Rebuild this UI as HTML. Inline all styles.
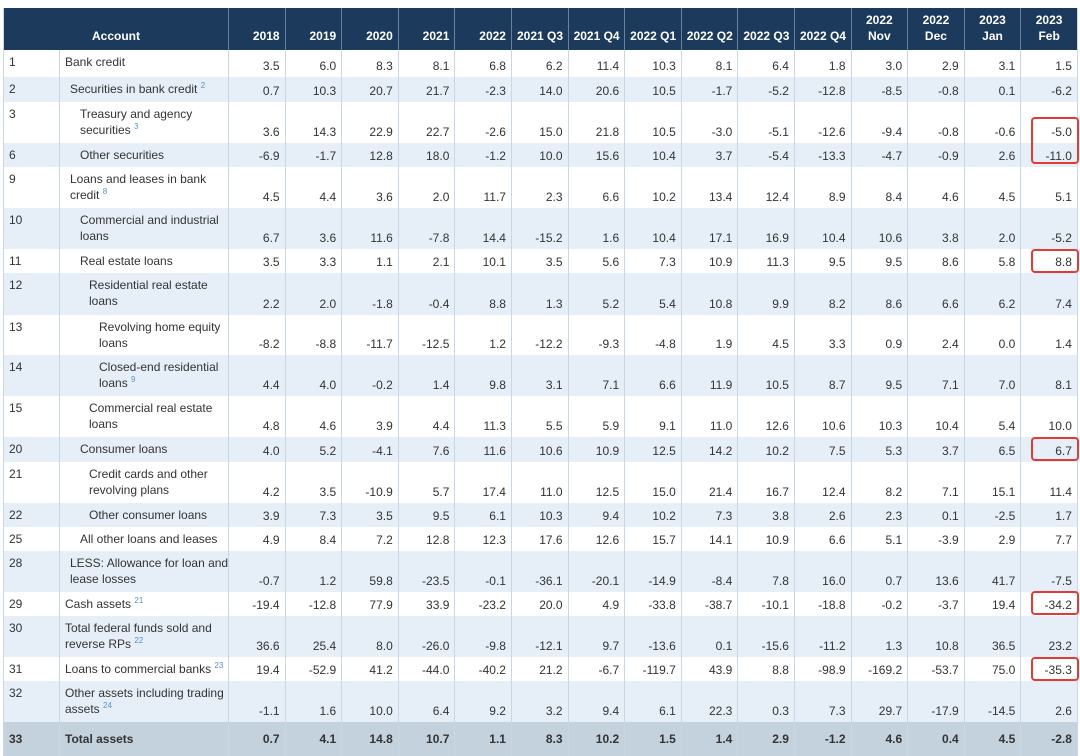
<!DOCTYPE html>
<html><head><meta charset="utf-8"><style>
body{margin:0;background:#fff;width:1080px;height:756px;overflow:hidden;position:relative;font-family:"Liberation Sans",Arial,sans-serif;}
table{position:absolute;left:3px;top:8px;border-collapse:collapse;table-layout:fixed;width:1074px;font-size:12px;color:#333;border-right:1px solid #c9d6e3}
th{background:#1b3a5c;color:#fff;font-weight:bold;height:42px;padding:0 5px 6px;vertical-align:bottom;text-align:right;border-left:1px solid #6b819a;line-height:16px;box-sizing:border-box;white-space:nowrap;overflow:hidden}
th.a{text-align:center}
td{padding:2px 5px 3px;border-left:1px solid #c9d6e3;vertical-align:bottom;text-align:right;line-height:16px;box-sizing:border-box;white-space:nowrap;overflow:hidden}
td.n,td.l{text-align:left;vertical-align:top;padding-top:4px}
tr.b td{background:#e6eff8}
tr.t td{background:#c4d2de;font-weight:bold;vertical-align:middle}
tr.t td.n,tr.t td.l{vertical-align:middle;padding-top:2px}
td:first-child,th:first-child{border-left:1px solid #c9d6e3}
sup{color:#5b8fc7;font-size:8px;vertical-align:5px;line-height:0}
.r{position:absolute;border:2px solid #e53935;border-radius:4px;box-sizing:border-box}
</style></head><body>
<table>
<colgroup><col style="width:56px"><col style="width:169px"><col span="15" style="width:56.6px"></colgroup>
<tr><th class="a" colspan="2">Account</th><th>2018</th><th>2019</th><th>2020</th><th>2021</th><th>2022</th><th>2021 Q3</th><th>2021 Q4</th><th>2022 Q1</th><th>2022 Q2</th><th>2022 Q3</th><th>2022 Q4</th><th class="a">2022<br>Nov</th><th class="a">2022<br>Dec</th><th class="a">2023<br>Jan</th><th class="a">2023<br>Feb</th></tr>
<tr style="height:27px"><td class="n">1</td><td class="l" style="padding-left:5px">Bank credit</td><td>3.5</td><td>6.0</td><td>8.3</td><td>8.1</td><td>6.8</td><td>6.2</td><td>11.4</td><td>10.3</td><td>8.1</td><td>6.4</td><td>1.8</td><td>3.0</td><td>2.9</td><td>3.1</td><td>1.5</td></tr>
<tr class="b" style="height:25px"><td class="n">2</td><td class="l" style="padding-left:10px">Securities in bank credit <sup>2</sup></td><td>0.7</td><td>10.3</td><td>20.7</td><td>21.7</td><td>-2.3</td><td>14.0</td><td>20.6</td><td>10.5</td><td>-1.7</td><td>-5.2</td><td>-12.8</td><td>-8.5</td><td>-0.8</td><td>0.1</td><td>-6.2</td></tr>
<tr style="height:41px"><td class="n">3</td><td class="l" style="padding-left:20px">Treasury and agency<br>securities <sup>3</sup></td><td>3.6</td><td>14.3</td><td>22.9</td><td>22.7</td><td>-2.6</td><td>15.0</td><td>21.8</td><td>10.5</td><td>-3.0</td><td>-5.1</td><td>-12.6</td><td>-9.4</td><td>-0.8</td><td>-0.6</td><td>-5.0</td></tr>
<tr class="b" style="height:24px"><td class="n">6</td><td class="l" style="padding-left:20px">Other securities</td><td>-6.9</td><td>-1.7</td><td>12.8</td><td>18.0</td><td>-1.2</td><td>10.0</td><td>15.6</td><td>10.4</td><td>3.7</td><td>-5.4</td><td>-13.3</td><td>-4.7</td><td>-0.9</td><td>2.6</td><td>-11.0</td></tr>
<tr style="height:41px"><td class="n">9</td><td class="l" style="padding-left:10px">Loans and leases in bank<br>credit <sup>8</sup></td><td>4.5</td><td>4.4</td><td>3.6</td><td>2.0</td><td>11.7</td><td>2.3</td><td>6.6</td><td>10.2</td><td>13.4</td><td>12.4</td><td>8.9</td><td>8.4</td><td>4.6</td><td>4.5</td><td>5.1</td></tr>
<tr class="b" style="height:41px"><td class="n">10</td><td class="l" style="padding-left:20px">Commercial and industrial<br>loans</td><td>6.7</td><td>3.6</td><td>11.6</td><td>-7.8</td><td>14.4</td><td>-15.2</td><td>1.6</td><td>10.4</td><td>17.1</td><td>16.9</td><td>10.4</td><td>10.6</td><td>3.8</td><td>2.0</td><td>-5.2</td></tr>
<tr style="height:24px"><td class="n">11</td><td class="l" style="padding-left:20px">Real estate loans</td><td>3.5</td><td>3.3</td><td>1.1</td><td>2.1</td><td>10.1</td><td>3.5</td><td>5.6</td><td>7.3</td><td>10.9</td><td>11.3</td><td>9.5</td><td>9.5</td><td>8.6</td><td>5.8</td><td>8.8</td></tr>
<tr class="b" style="height:42px"><td class="n">12</td><td class="l" style="padding-left:29px">Residential real estate<br>loans</td><td>2.2</td><td>2.0</td><td>-1.8</td><td>-0.4</td><td>8.8</td><td>1.3</td><td>5.2</td><td>5.4</td><td>10.8</td><td>9.9</td><td>8.2</td><td>8.6</td><td>6.6</td><td>6.2</td><td>7.4</td></tr>
<tr style="height:40px"><td class="n">13</td><td class="l" style="padding-left:39px">Revolving home equity<br>loans</td><td>-8.2</td><td>-8.8</td><td>-11.7</td><td>-12.5</td><td>1.2</td><td>-12.2</td><td>-9.3</td><td>-4.8</td><td>1.9</td><td>4.5</td><td>3.3</td><td>0.9</td><td>2.4</td><td>0.0</td><td>1.4</td></tr>
<tr class="b" style="height:41px"><td class="n">14</td><td class="l" style="padding-left:39px">Closed-end residential<br>loans <sup>9</sup></td><td>4.4</td><td>4.0</td><td>-0.2</td><td>1.4</td><td>9.8</td><td>3.1</td><td>7.1</td><td>6.6</td><td>11.9</td><td>10.5</td><td>8.7</td><td>9.5</td><td>7.1</td><td>7.0</td><td>8.1</td></tr>
<tr style="height:41px"><td class="n">15</td><td class="l" style="padding-left:29px">Commercial real estate<br>loans</td><td>4.8</td><td>4.6</td><td>3.9</td><td>4.4</td><td>11.3</td><td>5.5</td><td>5.9</td><td>9.1</td><td>11.0</td><td>12.6</td><td>10.6</td><td>10.3</td><td>10.4</td><td>5.4</td><td>10.0</td></tr>
<tr class="b" style="height:25px"><td class="n">20</td><td class="l" style="padding-left:20px">Consumer loans</td><td>4.0</td><td>5.2</td><td>-4.1</td><td>7.6</td><td>11.6</td><td>10.6</td><td>10.9</td><td>12.5</td><td>14.2</td><td>10.2</td><td>7.5</td><td>5.3</td><td>3.7</td><td>6.5</td><td>6.7</td></tr>
<tr style="height:41px"><td class="n">21</td><td class="l" style="padding-left:29px">Credit cards and other<br>revolving plans</td><td>4.2</td><td>3.5</td><td>-10.9</td><td>5.7</td><td>17.4</td><td>11.0</td><td>12.5</td><td>15.0</td><td>21.4</td><td>16.7</td><td>12.4</td><td>8.2</td><td>7.1</td><td>15.1</td><td>11.4</td></tr>
<tr class="b" style="height:24px"><td class="n">22</td><td class="l" style="padding-left:29px">Other consumer loans</td><td>3.9</td><td>7.3</td><td>3.5</td><td>9.5</td><td>6.1</td><td>10.3</td><td>9.4</td><td>10.2</td><td>7.3</td><td>3.8</td><td>2.6</td><td>2.3</td><td>0.1</td><td>-2.5</td><td>1.7</td></tr>
<tr style="height:24px"><td class="n">25</td><td class="l" style="padding-left:20px">All other loans and leases</td><td>4.9</td><td>8.4</td><td>7.2</td><td>12.8</td><td>12.3</td><td>17.6</td><td>12.6</td><td>15.7</td><td>14.1</td><td>10.9</td><td>6.6</td><td>5.1</td><td>-3.9</td><td>2.9</td><td>7.7</td></tr>
<tr class="b" style="height:41px"><td class="n">28</td><td class="l" style="padding-left:10px">LESS: Allowance for loan and<br>lease losses</td><td>-0.7</td><td>1.2</td><td>59.8</td><td>-23.5</td><td>-0.1</td><td>-36.1</td><td>-20.1</td><td>-14.9</td><td>-8.4</td><td>7.8</td><td>16.0</td><td>0.7</td><td>13.6</td><td>41.7</td><td>-7.5</td></tr>
<tr style="height:24px"><td class="n">29</td><td class="l" style="padding-left:5px">Cash assets <sup>21</sup></td><td>-19.4</td><td>-12.8</td><td>77.9</td><td>33.9</td><td>-23.2</td><td>20.0</td><td>4.9</td><td>-33.8</td><td>-38.7</td><td>-10.1</td><td>-18.8</td><td>-0.2</td><td>-3.7</td><td>19.4</td><td>-34.2</td></tr>
<tr class="b" style="height:41px"><td class="n">30</td><td class="l" style="padding-left:5px">Total federal funds sold and<br>reverse RPs <sup>22</sup></td><td>36.6</td><td>25.4</td><td>8.0</td><td>-26.0</td><td>-9.8</td><td>-12.1</td><td>9.7</td><td>-13.6</td><td>0.1</td><td>-15.6</td><td>-11.2</td><td>1.3</td><td>10.8</td><td>36.5</td><td>23.2</td></tr>
<tr style="height:24px"><td class="n">31</td><td class="l" style="padding-left:5px">Loans to commercial banks <sup>23</sup></td><td>19.4</td><td>-52.9</td><td>41.2</td><td>-44.0</td><td>-40.2</td><td>21.2</td><td>-6.7</td><td>-119.7</td><td>43.9</td><td>8.8</td><td>-98.9</td><td>-169.2</td><td>-53.7</td><td>75.0</td><td>-35.3</td></tr>
<tr class="b" style="height:41px"><td class="n">32</td><td class="l" style="padding-left:5px">Other assets including trading<br>assets <sup>24</sup></td><td>-1.1</td><td>1.6</td><td>10.0</td><td>6.4</td><td>9.2</td><td>3.2</td><td>9.4</td><td>6.1</td><td>22.3</td><td>0.3</td><td>7.3</td><td>29.7</td><td>-17.9</td><td>-14.5</td><td>2.6</td></tr>
<tr class="t" style="height:34px"><td class="n">33</td><td class="l" style="padding-left:5px">Total assets</td><td>0.7</td><td>4.1</td><td>14.8</td><td>10.7</td><td>1.1</td><td>8.3</td><td>10.2</td><td>1.5</td><td>1.4</td><td>2.9</td><td>-1.2</td><td>4.6</td><td>0.4</td><td>4.5</td><td>-2.8</td></tr>
</table>
<div class="r" style="left:1031px;top:117px;width:48px;height:47px"></div>
<div class="r" style="left:1031px;top:249px;width:48px;height:24px"></div>
<div class="r" style="left:1031px;top:437px;width:48px;height:24px"></div>
<div class="r" style="left:1031px;top:591px;width:48px;height:24px"></div>
<div class="r" style="left:1031px;top:657px;width:48px;height:24px"></div>
</body></html>
